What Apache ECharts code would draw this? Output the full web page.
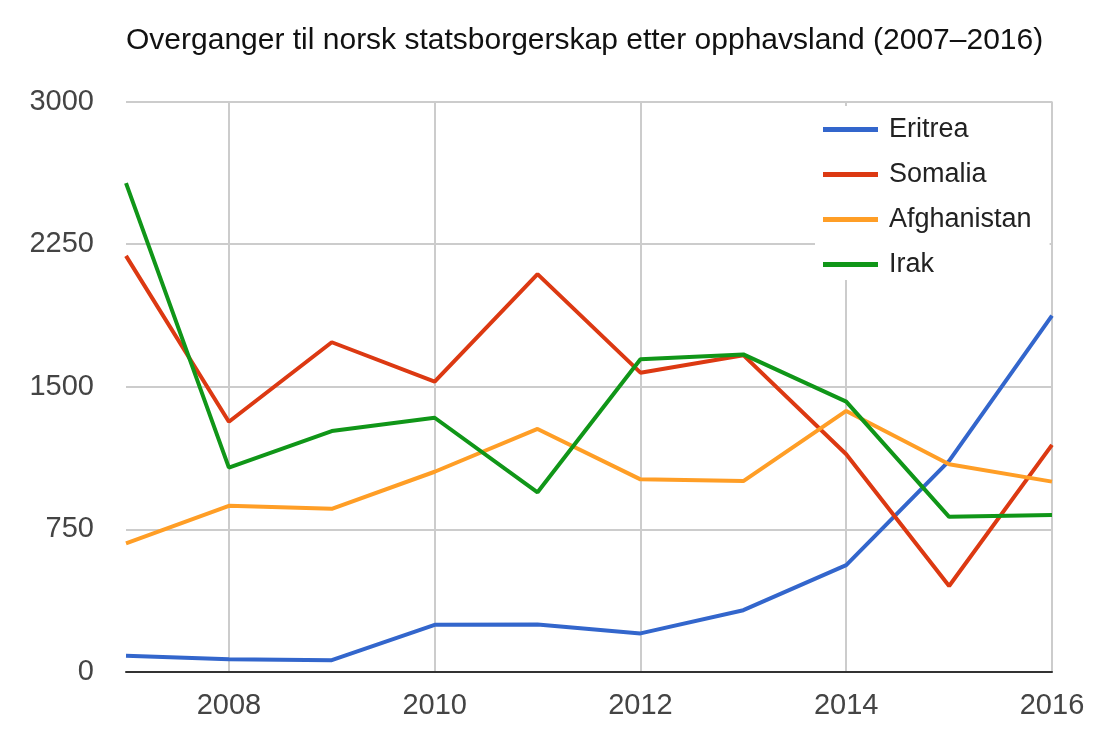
<!DOCTYPE html>
<html>
<head>
<meta charset="utf-8">
<script src="https://cdn.jsdelivr.net/npm/echarts@6/dist/echarts.min.js"></script>
<style>
html,body{margin:0;padding:0;background:#fff;}
#chart{width:1107px;height:739px;}
</style>
</head>
<body>
<div id="chart"></div>
<script>
const years = ['2007','2008','2009','2010','2011','2012','2013','2014','2015','2016'];
const eritrea = [85, 67, 62, 248, 250, 203, 325, 562, 1110, 1874];
const somalia = [2188, 1316, 1734, 1527, 2092, 1574, 1666, 1145, 452, 1194];
const afghanistan = [676, 874, 858, 1053, 1278, 1013, 1004, 1373, 1092, 1001];
const irak = [2571, 1075, 1267, 1337, 945, 1645, 1670, 1422, 816, 825];
const seriesNames = ['Eritrea', 'Somalia', 'Afghanistan', 'Irak'];
const colors = ['#3366cc', '#dc3912', '#ff9e26', '#109618'];
const yTicks = [0, 750, 1500, 2250, 3000];

const font = 'Liberation Sans, Arial, sans-serif';
const chart = echarts.init(document.getElementById('chart'), null, {renderer: 'canvas'});
const dataSets = [eritrea, somalia, afghanistan, irak];

chart.setOption({
  animation: false,
  backgroundColor: '#fff',
  color: colors,
  title: {
    text: 'Overganger til norsk statsborgerskap etter opphavsland (2007–2016)',
    left: 126,
    top: 26,
    padding: 0,
    textStyle: {fontFamily: font, fontSize: 30, fontWeight: 'normal', color: '#111'}
  },
  legend: {
    orient: 'vertical',
    left: 815,
    top: 106,
    padding: [10, 18, 2, 8],
    backgroundColor: '#fff',
    itemWidth: 55,
    itemHeight: 5,
    itemGap: 18,
    icon: 'rect',
    data: seriesNames,
    textStyle: {fontFamily: font, fontSize: 27, color: '#222', lineHeight: 27, padding: [0, 0, 0, 6]},
    z: 10
  },
  grid: {left: 126, right: 55, top: 101.5, bottom: 67, containLabel: false},
  xAxis: {
    type: 'category',
    data: years,
    boundaryGap: false,
    axisLine: {show: true, lineStyle: {color: '#333', width: 2}},
    axisTick: {show: false},
    axisLabel: {
      interval: function (i) { return i % 2 === 1; },
      fontFamily: font, fontSize: 29, color: '#444', margin: 19
    },
    splitLine: {
      show: true,
      interval: function (i) { return i % 2 === 1; },
      lineStyle: {color: '#cccccc', width: 2}
    }
  },
  yAxis: {
    type: 'value',
    min: yTicks[0],
    max: yTicks[yTicks.length - 1],
    interval: yTicks[1] - yTicks[0],
    axisLine: {show: false},
    axisTick: {show: false},
    axisLabel: {
      formatter: function (v) { return String(v); },
      fontFamily: font, fontSize: 29, color: '#444', margin: 32
    },
    splitLine: {show: true, lineStyle: {color: '#cccccc', width: 2}}
  },
  series: seriesNames.map((n, i) => ({
    name: n,
    type: 'line',
    data: dataSets[i],
    showSymbol: false,
    symbol: 'none',
    lineStyle: {width: 4, color: colors[i]},
    itemStyle: {color: colors[i]},
    z: 3
  }))
});
</script>
</body>
</html>
